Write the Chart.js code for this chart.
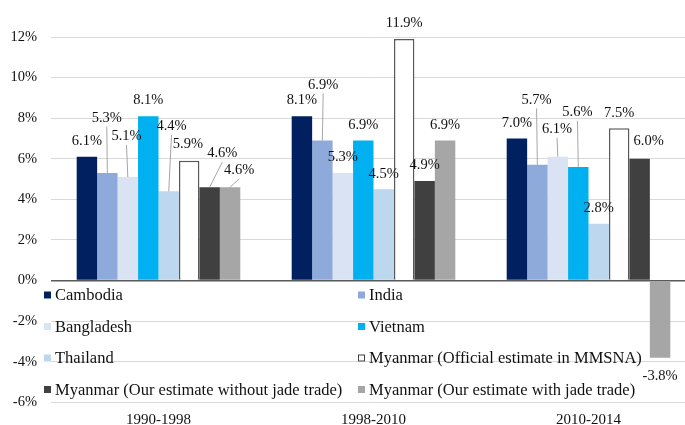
<!DOCTYPE html>
<html>
<head>
<meta charset="utf-8">
<script src="https://cdn.jsdelivr.net/npm/chart.js@4"></script>
<style>
  html, body { margin: 0; padding: 0; background: #fff; overflow: hidden; }
  #wrap { width: 685px; height: 425px; overflow: hidden; }
</style>
</head>
<body>
<div id="wrap"><canvas id="growthChart" width="696" height="425"></canvas></div>
<script>
const periods = ['1990-1998', '1998-2010', '2010-2014'];

const cambodia   = [6.1, 8.1, 7.0];
const india      = [5.3, 6.9, 5.7];
const bangladesh = [5.1, 5.3, 6.1];
const vietnam    = [8.1, 6.9, 5.6];
const thailand   = [4.4, 4.5, 2.8];
const myanmarOfficial = [5.9, 11.9, 7.5];
const myanmarNoJade   = [4.6, 4.9, 6.0];
const myanmarJade     = [4.6, 6.9, -3.8];

const yTicks = [-6, -4, -2, 0, 2, 4, 6, 8, 10, 12];

const FONT = "'Liberation Serif', 'Times New Roman', serif";

// label nudges (series index -> category index -> [dx, dy, leader])
const labelMoves = {
    '1-0': [-0.6, -55, true],
    '2-0': [-1.3, -40.6, true],
    '4-0': [2.8, -64.8, true],
    '5-0': [-1.3, -16.5, false],
    '6-0': [12.7, -33.5, true],
    '7-0': [9.1, -16.8, true],
    '1-1': [0.8, -55.7, true],
    '1-2': [-0.8, -65, true],
    '2-2': [-0.8, -27.7, true],
    '3-2': [-0.8, -54.5, true],
    '6-2': [9, -17.3, false]
};

const barLabels = {
    id: 'barLabels',
    afterDatasetsDraw(chart) {
        const ctx = chart.ctx;
        ctx.save();
        ctx.font = '14.5px ' + FONT;
        ctx.fillStyle = '#111';
        ctx.textAlign = 'center';
        ctx.textBaseline = 'middle';
        chart.data.datasets.forEach((ds, i) => {
            const meta = chart.getDatasetMeta(i);
            meta.data.forEach((bar, j) => {
                const v = ds.data[j];
                const move = labelMoves[i + '-' + j];
                let tx = bar.x, ty;
                if (move) {
                    tx = bar.x + move[0];
                    ty = bar.y + move[1];
                    if (move[2]) {
                        ctx.strokeStyle = '#a6a6a6';
                        ctx.lineWidth = 1;
                        ctx.beginPath();
                        ctx.moveTo(tx, ty + 8.5);
                        ctx.lineTo(bar.x, bar.y);
                        ctx.stroke();
                    }
                } else if (v >= 0) {
                    ty = bar.y - 15.5;
                } else {
                    ty = bar.y + 19;
                }
                ctx.fillText(v.toFixed(1) + '%', tx, ty);
            });
        });
        ctx.restore();
    }
};

const insideLegend = {
    id: 'insideLegend',
    afterDatasetsDraw(chart) {
        const ctx = chart.ctx;
        const area = chart.chartArea;
        const colX = [area.left - 7, area.left + 307];
        const rowY = [295, 326.5, 358, 389.5];
        ctx.save();
        ctx.font = '16.5px ' + FONT;
        ctx.textBaseline = 'middle';
        ctx.textAlign = 'left';
        chart.data.datasets.forEach((ds, i) => {
            const x = colX[i % 2];
            const y = rowY[Math.floor(i / 2)];
            ctx.fillStyle = ds.backgroundColor;
            ctx.fillRect(x, y - 3.5, 7, 7);
            if (ds.borderWidth) {
                ctx.strokeStyle = '#404040';
                ctx.lineWidth = 1;
                ctx.strokeRect(x + 0.5, y - 3, 6, 6);
            }
            ctx.fillStyle = '#111';
            ctx.fillText(ds.label, x + 11, y + 1);
        });
        ctx.restore();
    }
};

new Chart(document.getElementById('growthChart'), {
    type: 'bar',
    data: {
        labels: periods,
        datasets: [
            { label: 'Cambodia', data: cambodia, backgroundColor: '#002060' },
            { label: 'India', data: india, backgroundColor: '#8eaadb' },
            { label: 'Bangladesh', data: bangladesh, backgroundColor: '#dae3f3' },
            { label: 'Vietnam', data: vietnam, backgroundColor: '#00b0f0' },
            { label: 'Thailand', data: thailand, backgroundColor: '#bdd7ee' },
            { label: 'Myanmar (Official estimate in MMSNA)', data: myanmarOfficial,
              backgroundColor: '#ffffff', borderColor: '#595959', borderWidth: 1.5 },
            { label: 'Myanmar (Our estimate without jade trade)', data: myanmarNoJade, backgroundColor: '#404040' },
            { label: 'Myanmar (Our estimate with jade trade)', data: myanmarJade, backgroundColor: '#a6a6a6' }
        ]
    },
    options: {
        responsive: false,
        animation: false,
        layout: { padding: { top: 37, right: 0, bottom: 0, left: 0 } },
        datasets: {
            bar: { categoryPercentage: 0.761, barPercentage: 1 }
        },
        plugins: {
            legend: { display: false },
            tooltip: { enabled: false }
        },
        scales: {
            x: {
                grid: { display: false, drawTicks: false },
                border: { display: false },
                ticks: { color: '#111', font: { family: FONT, size: 15 }, padding: 9, maxRotation: 0 },
                afterFit(scale) { scale.height = 22; }
            },
            y: {
                min: -6,
                max: 12,
                afterBuildTicks(scale) { scale.ticks = yTicks.map(v => ({ value: v })); },
                grid: {
                    drawTicks: false,
                    color: c => c.tick && c.tick.value === 0 ? '#595959' : '#d9d9d9',
                    lineWidth: c => c.tick && c.tick.value === 0 ? 1.5 : 1
                },
                border: { display: false },
                ticks: {
                    color: '#111',
                    font: { family: FONT, size: 14.5 },
                    padding: 14,
                    callback: v => v + '%'
                },
                afterFit(scale) { scale.width = 51; }
            }
        }
    },
    plugins: [barLabels, insideLegend]
});
</script>
</body>
</html>
